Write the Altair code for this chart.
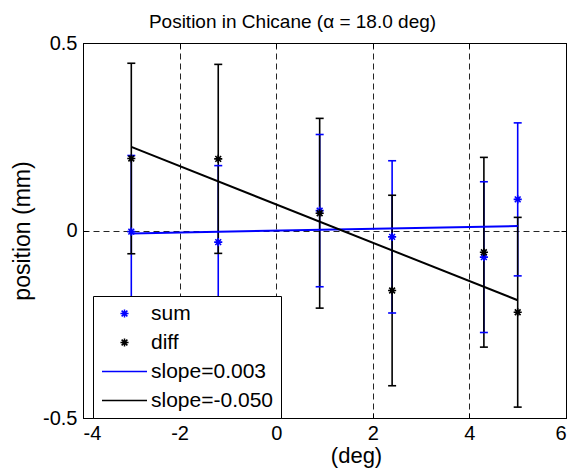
import altair as alt
import pandas as pd

# ---- data ----
x_pos = [-3.0, -1.2, 0.9, 2.4, 4.3, 5.0]
sum_val = [-0.003, -0.031, 0.053, -0.017, -0.071, 0.083]
sum_err = [0.203, 0.204, 0.203, 0.203, 0.201, 0.204]
diff_val = [0.192, 0.191, 0.046, -0.160, -0.058, -0.218]
diff_err = [0.254, 0.252, 0.253, 0.254, 0.253, 0.253]

fit_x = [-3.0, 5.0]
fit_sum = [-0.008, 0.012]
fit_diff = [0.223, -0.186]

series_names = ["sum", "diff", "slope=0.003", "slope=-0.050"]
series_colors = ["#0000ff", "#000000", "#0000ff", "#000000"]

x_ticks = [-4, -2, 0, 2, 4, 6]
y_ticks = [-0.5, 0, 0.5]

FONT = "Liberation Sans"
ASTERISK = "M-0.45,0L0.45,0M0,-0.45L0,0.45M-0.32,-0.32L0.32,0.32M-0.32,0.32L0.32,-0.32"
LINESYM = "M-2.5,0L2.5,0"

# ---- tables ----
pts = pd.DataFrame({
    "x": x_pos + x_pos,
    "v": sum_val + diff_val,
    "e": sum_err + diff_err,
    "series": ["sum"] * len(x_pos) + ["diff"] * len(x_pos),
})
pts["lo"] = pts["v"] - pts["e"]
pts["hi"] = pts["v"] + pts["e"]

caps = pd.concat([
    pts[["x", "series"]].assign(c=pts["lo"]),
    pts[["x", "series"]].assign(c=pts["hi"]),
]).sort_values("series", key=lambda s: s.map({"sum": 0, "diff": 1}), kind="stable")

fits = pd.DataFrame({
    "x": fit_x + fit_x,
    "y": fit_sum + fit_diff,
    "series": ["slope=0.003"] * 2 + ["slope=-0.050"] * 2,
})

xscale = alt.Scale(domain=[-4, 6], nice=False, zero=False)
yscale = alt.Scale(domain=[-0.5, 0.5], nice=False, zero=False)
cscale = alt.Scale(domain=series_names, range=series_colors)
sscale = alt.Scale(domain=series_names, range=[ASTERISK, ASTERISK, LINESYM, LINESYM])

legend = alt.Legend(
    title=None, orient="none", legendX=10, legendY=253,
    strokeColor="black", fillColor="white", padding=7, cornerRadius=0,
    labelFont=FONT, labelFontSize=21, labelColor="black", labelBaseline="middle",
    symbolSize=324, symbolStrokeWidth=1.5, symbolOffset=14, labelOffset=16,
    rowPadding=7, symbolType="stroke",
)

def color_enc():
    return alt.Color("series:N", scale=cscale, legend=legend)

main_x = alt.Axis(
    orient="bottom", offset=-5, tickSize=5, tickColor="black", domain=False,
    values=x_ticks, labelExpr="'' + datum.value", labelFont=FONT, labelFontSize=20,
    labelColor="black", labelPadding=5,
    grid=True, gridDash=[6, 4], gridColor="black", gridOpacity=0.85, gridWidth=1,
    title="(deg)", titleFont=FONT, titleFontSize=22, titleFontWeight="normal",
    titleColor="black", titleX=273, titleY=42, titleBaseline="middle", titleAlign="center",
)
main_y = alt.Axis(
    orient="left", offset=-5, tickSize=5, tickColor="black", domain=False,
    values=y_ticks, labelExpr="'' + datum.value", labelFont=FONT, labelFontSize=20,
    labelColor="black", labelPadding=6,
    grid=True, gridDash=[6, 4], gridColor="black", gridOpacity=0.85, gridWidth=1,
    title="position (mm)", titleFont=FONT, titleFontSize=23, titleFontWeight="normal",
    titleColor="black", titleX=-66, titleY=187.5, titleBaseline="middle", titleAlign="center",
    titleAngle=270,
)
top_x = alt.Axis(orient="top", offset=-5, tickSize=5, tickColor="black", domain=False,
                 values=x_ticks, labels=False, grid=False, title=None)
right_y = alt.Axis(orient="right", offset=-5, tickSize=5, tickColor="black", domain=False,
                   values=y_ticks, labels=False, grid=False, title=None)

bars = alt.Chart(pts).mark_rule(strokeWidth=1.6).encode(
    x=alt.X("x:Q", scale=xscale, axis=main_x),
    y=alt.Y("lo:Q", scale=yscale, axis=main_y),
    y2="hi:Q",
    color=color_enc(),
)

capl = alt.Chart(caps).mark_rule(strokeWidth=1.6, xOffset=-4, x2Offset=4).encode(
    x=alt.X("x:Q", scale=xscale, axis=None),
    x2="x:Q",
    y=alt.Y("c:Q", scale=yscale, axis=None),
    color=color_enc(),
)

points = alt.Chart(pts).mark_point(filled=False, size=324, strokeWidth=1.6, opacity=1).encode(
    x=alt.X("x:Q", scale=xscale, axis=None),
    y=alt.Y("v:Q", scale=yscale, axis=None),
    color=color_enc(),
    shape=alt.Shape("series:N", scale=sscale, legend=legend),
)

lines = alt.Chart(fits).mark_line(strokeWidth=2).encode(
    x=alt.X("x:Q", scale=xscale, axis=top_x),
    y=alt.Y("y:Q", scale=yscale, axis=right_y),
    color=color_enc(),
    detail="series:N",
)

chart = alt.layer(bars, capl, points, lines).resolve_axis(
    x="independent", y="independent"
).properties(
    width=483, height=375,
    autosize="none",
    padding={"left": 75, "top": 35, "right": 3, "bottom": 56},
    background="white",
    title=alt.TitleParams(
        "Position in Chicane (α = 18.0 deg)", font=FONT, fontSize=19,
        fontWeight="normal", color="black", anchor="middle", dx=-32,
        offset=-14, baseline="alphabetic",
    ),
).configure_view(stroke="black", strokeWidth=1)

chart.save("out.html", embed_options={"renderer": "svg", "actions": False})
